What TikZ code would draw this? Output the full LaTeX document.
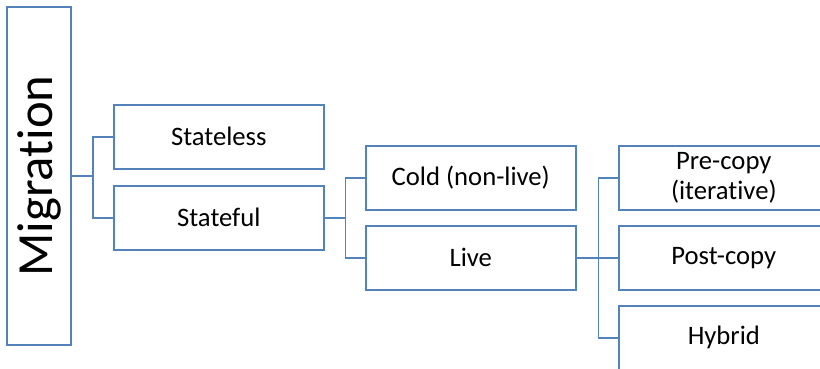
\documentclass[tikz,border=0pt]{standalone}
\usepackage{fontspec}
\setmainfont[Ligatures=NoCommon]{Carlito}
\definecolor{boxblue}{RGB}{84,130,186}
\tikzset{
  box/.style={draw=boxblue, fill=white, line width=1.2pt, minimum width=157.5pt, minimum height=48pt,
    inner sep=0pt, align=center, anchor=north west, font=\fontsize{20}{22.5}\selectfont},
  link/.style={draw=boxblue, line width=1.2pt},
}
\begin{document}
\begin{tikzpicture}[x=0.75pt, y=-0.75pt]
  \useasboundingbox (0,0) rectangle (820,368);
  \clip (0,0) rectangle (820,368);
  \fill[white] (0,0) rectangle (820,368);

  % root
  \node[draw=boxblue, line width=1.2pt, rotate=90, minimum width=253.5pt, minimum height=48pt,
    inner sep=0pt, font=\fontsize{38}{40}\selectfont] (mig) at (39,176) {Migration};

  % first level
  \node[box] (stateless) at (113,104) {Stateless};
  \node[box] (stateful) at (113,185) {Stateful};

  % second level
  \node[box] (cold) at (365,145) {Cold (non-live)};
  \node[box] (live) at (365,225) {Live};

  % third level
  \node[box] (pre) at (618,145) {Pre-copy\\(iterative)};
  \node[box] (post) at (618,225) {Post-copy};
  \node[box] (hybrid) at (618,305) {Hybrid};

  % connectors
  \draw[link] (mig.south) -- ++(21,0) coordinate (j1);
  \draw[link] (j1) |- (stateless.west);
  \draw[link] (j1) |- (stateful.west);

  \draw[link] (stateful.east) -- ++(21,0) coordinate (j2);
  \draw[link] (j2) |- (cold.west);
  \draw[link] (j2) |- (live.west);

  \draw[link] (live.east) -- ++(22,0) coordinate (j3);
  \draw[link] (j3) |- (pre.west);
  \draw[link] (j3) |- (post.west);
  \draw[link] (j3) |- (hybrid.west);
\end{tikzpicture}
\end{document}
